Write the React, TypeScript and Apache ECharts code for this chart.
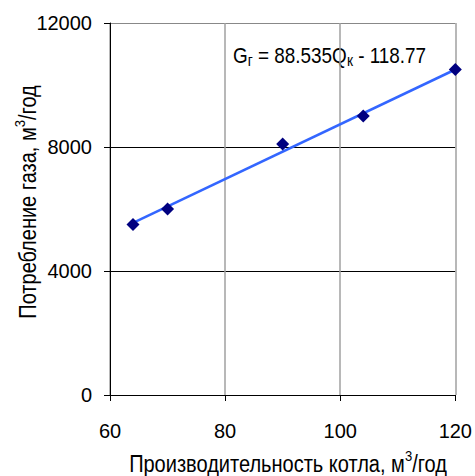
import React, { useEffect, useRef } from "react";
import * as echarts from "echarts";

const capacity = [64, 70, 90, 104, 120];
const gasUse = [5500, 6000, 8100, 9000, 10500];
const trendX = [64, 120];
const trendY = [5550, 10500];
const xTicks = { min: 60, max: 120, interval: 20 };
const yTicks = { min: 0, max: 12000, interval: 4000 };

const NARROW = "'Liberation Sans Narrow', 'Arial Narrow', 'Liberation Sans', Arial, sans-serif";
const REG = "'Liberation Sans', Arial, sans-serif";

export default function App() {
  const ref = useRef<HTMLDivElement>(null);
  useEffect(() => {
    const chart = echarts.init(ref.current!, null, { renderer: "svg" });
    const sup = { fontSize: 15, fontFamily: NARROW, fill: "#000", verticalAlign: "bottom", padding: [0, 0, 17, 0] };
    const sub = { fontSize: 16, fontFamily: NARROW, fill: "#000", verticalAlign: "top", padding: [10, 0, 0, 0] };
    chart.setOption({
      animation: false,
      backgroundColor: "#ffffff",
      grid: { left: 110, right: 18, top: 23, bottom: 81, containLabel: false },
      xAxis: {
        type: "value",
        min: xTicks.min,
        max: xTicks.max,
        interval: xTicks.interval,
        axisLine: { show: true, lineStyle: { color: "#000", width: 1 } },
        axisTick: { show: true, inside: false, length: 6, lineStyle: { color: "#000" } },
        axisLabel: { color: "#000", fontSize: 20, fontFamily: REG, margin: 26 },
        splitLine: { show: true, lineStyle: { color: "#a0a0a0", width: 1.5 } },
      },
      yAxis: {
        type: "value",
        min: yTicks.min,
        max: yTicks.max,
        interval: yTicks.interval,
        axisLine: { show: true, lineStyle: { color: "#000", width: 1 } },
        axisTick: { show: true, inside: false, length: 6, lineStyle: { color: "#000" } },
        axisLabel: {
          color: "#000",
          fontSize: 20,
          fontFamily: REG,
          margin: 18,
          formatter: (v: number) => String(v),
        },
        splitLine: { show: true, lineStyle: { color: ["#000", "#000", "#000", "#888"], width: 1 } },
      },
      graphic: [
        {
          type: "text",
          x: 233,
          y: 55,
          scaleX: 0.86,
          style: {
            text: "G{s|г} = 88.535Q{s|к} - 118.77",
            fontSize: 22,
            fontFamily: NARROW,
            fill: "#000",
            verticalAlign: "middle",
            align: "left",
            rich: { s: sub },
          },
        },
        {
          type: "text",
          x: 288,
          y: 464,
          scaleX: 0.87,
          style: {
            text: "Производительность котла, м{p|3}/год",
            fontSize: 23,
            fontFamily: NARROW,
            fill: "#000",
            align: "center",
            verticalAlign: "middle",
            rich: { p: sup },
          },
        },
        {
          type: "text",
          x: 28,
          y: 202,
          rotation: Math.PI / 2,
          scaleX: 0.87,
          style: {
            text: "Потребление газа, м{p|3}/год",
            fontSize: 23,
            fontFamily: NARROW,
            fill: "#000",
            align: "center",
            verticalAlign: "middle",
            rich: { p: sup },
          },
        },
      ],
      series: [
        {
          type: "line",
          data: trendX.map((x, i) => [x, trendY[i]]),
          showSymbol: false,
          symbol: "none",
          lineStyle: { color: "#3366ff", width: 2.5 },
          z: 2,
        },
        {
          type: "scatter",
          data: capacity.map((x, i) => [x, gasUse[i]]),
          symbol: "diamond",
          symbolSize: 13,
          itemStyle: { color: "#000080", opacity: 1 },
          z: 3,
        },
      ],
    });
    return () => chart.dispose();
  }, []);
  return <div ref={ref} style={{ position: "absolute", left: 0, top: 0, width: 475, height: 476 }} />;
}
